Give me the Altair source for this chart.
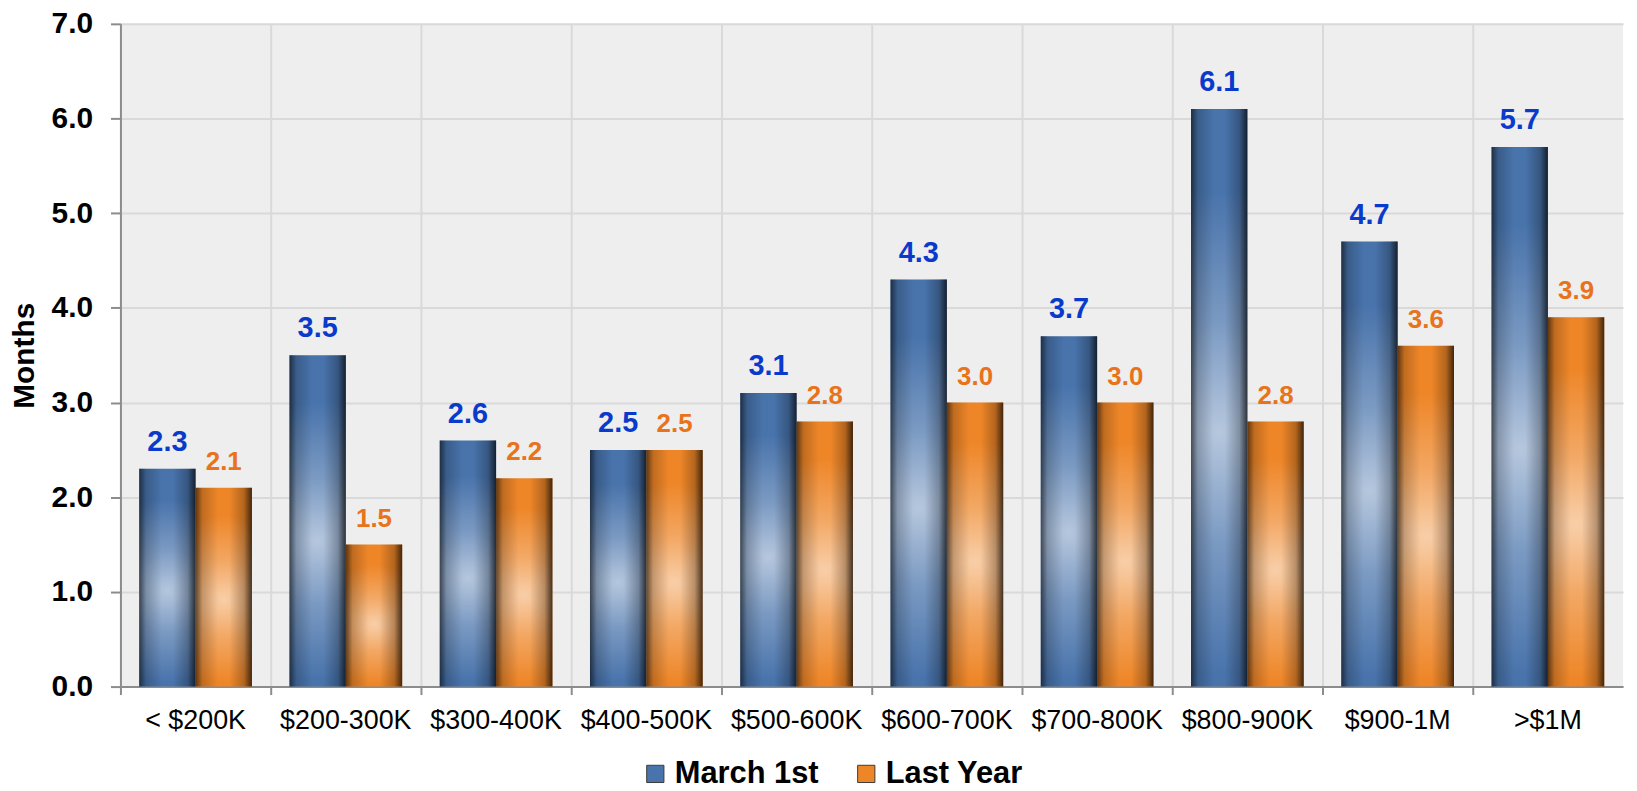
import altair as alt
import pandas as pd

categories = ["< $200K", "$200-300K", "$300-400K", "$400-500K", "$500-600K",
              "$600-700K", "$700-800K", "$800-900K", "$900-1M", ">$1M"]
series_names = ["March 1st", "Last Year"]
march_1st = [2.3, 3.5, 2.6, 2.5, 3.1, 4.3, 3.7, 6.1, 4.7, 5.7]
last_year = [2.1, 1.5, 2.2, 2.5, 2.8, 3.0, 3.0, 2.8, 3.6, 3.9]
y_ticks = [0, 1, 2, 3, 4, 5, 6, 7]

rows = []
for i, c in enumerate(categories):
    rows.append({"cat": c, "series": series_names[0], "value": march_1st[i]})
    rows.append({"cat": c, "series": series_names[1], "value": last_year[i]})
df = pd.DataFrame(rows)

FONT = "Liberation Sans"

x_enc = alt.X("cat:N", sort=categories, title=None,
              scale=alt.Scale(paddingInner=0, paddingOuter=0),
              axis=alt.Axis(labelAngle=0, labelFontSize=27, labelFont=FONT,
                            labelColor="#000000", bandPosition=0, grid=True,
                            tickSize=8, labelPadding=13, labelOverlap=False,
                            labelLimit=300, domainColor="#8c8c8c",
                            tickColor="#8c8c8c", domainWidth=2, tickWidth=2,
                            gridColor="#d9d9d9", gridWidth=2))
xo_enc = alt.XOffset("series:N", sort=series_names,
                     scale=alt.Scale(domain=series_names, paddingOuter=0.333,
                                     paddingInner=0))
y_enc = alt.Y("value:Q", title="Months",
              scale=alt.Scale(domain=[0, 7], nice=False),
              axis=alt.Axis(values=y_ticks, format=".1f", labelFontSize=30,
                            labelFont=FONT, labelFontWeight="bold",
                            labelColor="#000000", labelPadding=18, tickSize=10,
                            titleFont=FONT, titleFontSize=30,
                            titleFontWeight="bold", titleColor="#000000",
                            titlePadding=12, grid=True, gridColor="#d9d9d9",
                            gridWidth=2, domainColor="#8c8c8c", domainWidth=2,
                            tickColor="#8c8c8c", tickWidth=2))

base = alt.Chart(df)

bars = base.mark_bar().encode(
    x=x_enc, xOffset=xo_enc, y=y_enc,
    color=alt.Color("series:N",
                    scale=alt.Scale(domain=series_names,
                                    range=["#4873ab", "#ee8628"]),
                    legend=alt.Legend(title=None, orient="none", direction="horizontal",
                                      legendX=522, legendY=738,
                                      labelFont=FONT, labelFontSize=31,
                                      labelFontWeight="bold", labelColor="#000000",
                                      symbolType="square", symbolSize=300,
                                      symbolStrokeColor="#3a3a3a",
                                      symbolStrokeWidth=1,
                                      labelOffset=4, columnPadding=32,
                                      labelLimit=400)),
)

highlight = base.mark_bar(
    color=alt.RadialGradient(
        gradient="radial", x1=0.5, y1=0.56, r1=0, x2=0.5, y2=0.56, r2=0.42,
        stops=[alt.GradientStop(color="rgba(255,255,255,0.6)", offset=0),
               alt.GradientStop(color="rgba(255,255,255,0.28)", offset=0.45),
               alt.GradientStop(color="rgba(255,255,255,0)", offset=1)])
).encode(x=x_enc, xOffset=xo_enc, y=y_enc)

edges = base.mark_bar(
    color=alt.LinearGradient(
        gradient="linear", x1=0, y1=0, x2=1, y2=0,
        stops=[alt.GradientStop(color="rgba(0,0,0,0.6)", offset=0),
               alt.GradientStop(color="rgba(0,0,0,0.2)", offset=0.12),
               alt.GradientStop(color="rgba(0,0,0,0)", offset=0.4),
               alt.GradientStop(color="rgba(0,0,0,0)", offset=0.6),
               alt.GradientStop(color="rgba(0,0,0,0.25)", offset=0.86),
               alt.GradientStop(color="rgba(0,0,0,0.72)", offset=1)])
).encode(x=x_enc, xOffset=xo_enc, y=y_enc)

labels = base.mark_text(font=FONT, fontWeight="bold", baseline="alphabetic",
                        dy=-18).encode(
    x=x_enc, xOffset=xo_enc, y=y_enc,
    text=alt.Text("value:Q", format=".1f"),
    color=alt.condition("datum.series === 'March 1st'",
                        alt.value("#0a3acb"), alt.value("#e8731a")),
    size=alt.condition("datum.series === 'March 1st'",
                       alt.value(29), alt.value(26)),
)

chart = alt.layer(bars, highlight, edges, labels).properties(
    width=1510, height=666,
    autosize=alt.AutoSizeParams(type="none"),
    padding={"left": 113, "top": 14, "right": 6, "bottom": 103},
).configure_view(fill="#eeeeee", stroke=None)

chart.save("out.html", embed_options={"renderer": "svg", "actions": False})
